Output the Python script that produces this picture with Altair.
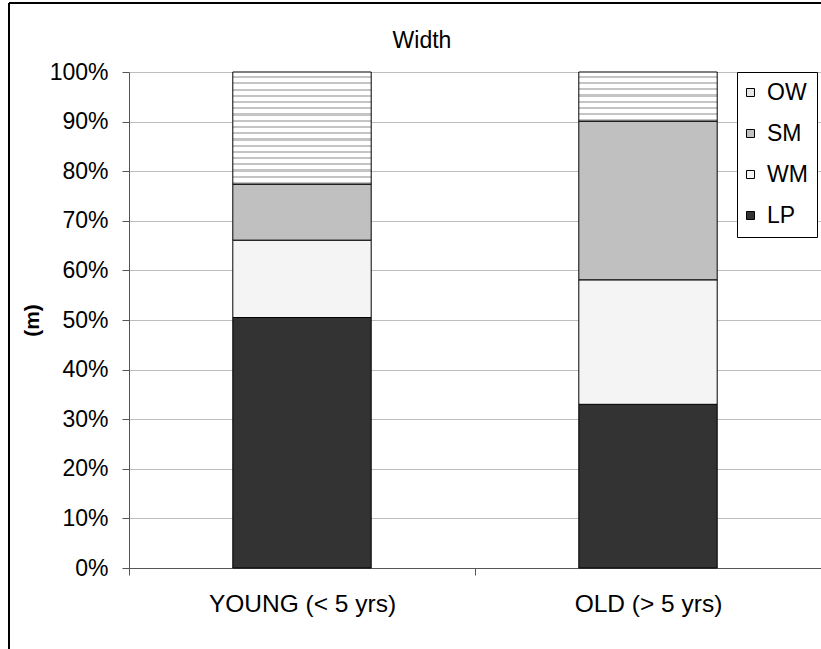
import altair as alt
import pandas as pd

# ---- data ----
ages = ["YOUNG (< 5 yrs)", "OLD (> 5 yrs)"]
types = ["LP", "WM", "SM", "OW"]          # stacking order, bottom to top
young_vals = [0.505, 0.156, 0.113, 0.226]
old_vals = [0.330, 0.251, 0.320, 0.099]
legend_order = ["OW", "SM", "WM", "LP"]
fill_colors = ["#e6e6e6", "#c0c0c0", "#f4f4f4", "#333333"]
y_ticks = [0, 0.1, 0.2, 0.3, 0.4, 0.5, 0.6, 0.7, 0.8, 0.9, 1.0]
title_text = "Width"

rows = []
for age, vals in zip(ages, [young_vals, old_vals]):
    for i, (t, v) in enumerate(zip(types, vals)):
        rows.append({"age": age, "type": t, "value": v, "ord": i})
df = pd.DataFrame(rows)

FONT = "Liberation Sans"


def stripes(n, gray="#c4c4c4"):
    stops = []
    for k in range(n):
        a = k / n
        b = (k + 0.65) / n
        c = (k + 1) / n
        stops += [
            {"offset": a, "color": "white"},
            {"offset": b, "color": "white"},
            {"offset": b, "color": gray},
            {"offset": c, "color": gray},
        ]
    return {"gradient": "linear", "x1": 0, "y1": 0, "x2": 0, "y2": 1, "stops": stops}


fill = alt.Fill(
    "type:N",
    scale=alt.Scale(domain=legend_order, range=fill_colors),
    legend=alt.Legend(
        title=None,
        orient="none",
        legendX=608,
        legendY=0,
        direction="vertical",
        symbolType="square",
        symbolSize=64,
        symbolStrokeColor="black",
        symbolStrokeWidth=1,
        symbolOpacity=1,
        symbolOffset=-7,
        labelFont=FONT,
        labelFontSize=23,
        labelColor="black",
        labelOffset=5,
        rowPadding=17,
        padding=9,
        strokeColor="black",
        fillColor="white",
    ),
    condition=[
        {"test": f"datum.type === 'OW' && datum.age === '{ages[0]}'", "value": stripes(18)},
        {"test": f"datum.type === 'OW' && datum.age === '{ages[1]}'", "value": stripes(8)},
    ],
)

bars = alt.Chart(df).mark_bar(
    stroke="black", strokeWidth=1, width=alt.RelativeBandSize(0.4)
).encode(
    x=alt.X(
        "age:N",
        sort=ages,
        scale=alt.Scale(paddingInner=0, paddingOuter=0),
        axis=alt.Axis(
            title=None,
            labelAngle=0,
            tickBand="extent",
            tickSize=7,
            labelPadding=17,
            labelLimit=400,
            labelFont=FONT,
            labelFontSize=24.5,
            labelColor="black",
            domainColor="#555555",
            tickColor="#555555",
            grid=False,
        ),
    ),
    y=alt.Y(
        "value:Q",
        stack="zero",
        scale=alt.Scale(domain=[0, 1], nice=False),
        axis=alt.Axis(
            format=".0%",
            values=y_ticks,
            tickSize=7,
            labelPadding=14,
            labelFont=FONT,
            labelFontSize=23,
            labelColor="black",
            domainColor="#555555",
            tickColor="#555555",
            gridColor="#bdbdbd",
            title="(m)",
            titleFont=FONT,
            titleFontSize=21,
            titleFontWeight="bold",
            titleColor="black",
            titleAngle=270,
            titleX=-97,
            titleY=248,
            titleAlign="center",
            titleBaseline="middle",
        ),
    ),
    fill=fill,
    order=alt.Order("ord:Q", sort="ascending"),
)

title_mark = alt.Chart(pd.DataFrame({"t": [title_text]})).mark_text(
    font=FONT, fontSize=23, color="black", align="center", baseline="alphabetic"
).encode(text="t:N", x=alt.value(293), y=alt.value(-24))

border_left = alt.Chart(df).mark_rule(color="black", strokeWidth=1).encode(
    x=alt.value(-120), y=alt.value(-69), y2=alt.value(600)
)
border_top = alt.Chart(df).mark_rule(color="black", strokeWidth=1).encode(
    x=alt.value(-120), x2=alt.value(720), y=alt.value(-69)
)

chart = alt.layer(bars, title_mark, border_left, border_top).properties(
    width=692,
    height=496,
    autosize="none",
    padding={"left": 129, "top": 72, "right": 0, "bottom": 81},
).configure_view(stroke="transparent")

chart.save("out.html", embed_options={"renderer": "svg", "actions": False})
